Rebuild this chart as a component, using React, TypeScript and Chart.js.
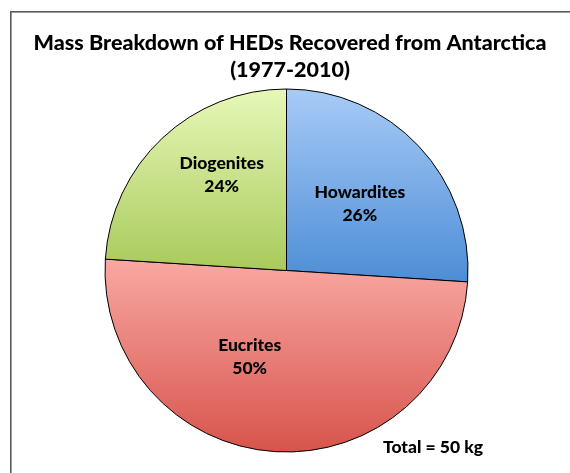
import React, { useEffect, useRef } from "react";
import { Chart, registerables } from "chart.js";

Chart.register(...registerables);

const categories = ["Howardites", "Eucrites", "Diogenites"];
const percentages = [26, 50, 24];
const titleLines = ["Mass Breakdown of HEDs Recovered from Antarctica", "(1977-2010)"];
const totalLabel = "Total = 50 kg";

// gradient colours per slice: [top, bottom]
const sliceGradients: [string, string][] = [
  ["#a8cbf7", "#4d8dd6"],
  ["#f9a8a3", "#d7544c"],
  ["#e7f8b8", "#a9ca5b"],
];

// label placement in units of pie radius: [dx, first-line baseline dy]
const labelOffsets: [number, number][] = [
  [0.404, -0.398],
  [-0.203, 0.442],
  [-0.357, -0.558],
];

const FONT = "Lato, 'Open Sans', sans-serif";

function sliceYRange(a0: number, a1: number, cy: number, r: number): [number, number] {
  const ys = [cy, cy + r * Math.sin(a0), cy + r * Math.sin(a1)];
  for (const k of [-Math.PI / 2, Math.PI / 2, (3 * Math.PI) / 2]) {
    if (k >= a0 && k <= a1) ys.push(cy + r * Math.sin(k));
  }
  return [Math.min(...ys), Math.max(...ys)];
}

const framePlugin = {
  id: "frame",
  beforeDraw(chart: any) {
    const ctx = chart.ctx;
    ctx.save();
    ctx.fillStyle = "#ffffff";
    ctx.fillRect(0, 0, chart.width, chart.height);
    ctx.strokeStyle = "#5a5a5a";
    ctx.lineWidth = 1.6;
    ctx.strokeRect(10.8, 11.8, chart.width + 20, chart.height + 20);
    ctx.restore();
  },
};

const textPlugin = {
  id: "texts",
  afterDraw(chart: any) {
    const ctx = chart.ctx;
    const meta = chart.getDatasetMeta(0);
    ctx.save();
    ctx.fillStyle = "#000000";
    ctx.textAlign = "center";
    ctx.textBaseline = "alphabetic";
    ctx.font = `900 21.5px ${FONT}`;
    ctx.fillText(titleLines[0], 290, 50);
    ctx.fillText(titleLines[1], 290, 77);

    const arc0 = meta.data[0];
    const cx = arc0.x;
    const cy = arc0.y;
    const r = arc0.outerRadius;
    ctx.font = `900 17.5px ${FONT}`;
    categories.forEach((name, i) => {
      const [dx, dy] = labelOffsets[i];
      const x = cx + dx * r;
      const y = cy + dy * r;
      ctx.fillText(name, x, y);
      ctx.fillText(`${percentages[i]}%`, x, y + 23);
    });
    ctx.fillText(totalLabel, cx + 146.5, cy + 182.5);
    ctx.restore();
  },
};

export default function App() {
  const ref = useRef<HTMLCanvasElement>(null);
  useEffect(() => {
    if (!ref.current) return;
    const total = percentages.reduce((a, b) => a + b, 0);
    const chart = new Chart(ref.current, {
      type: "pie",
      data: {
        labels: categories,
        datasets: [
          {
            data: percentages,
            borderColor: "#000000",
            borderWidth: 1,
            backgroundColor: (c: any) => {
              const ch = c.chart;
              const area = ch.chartArea;
              const i = c.dataIndex;
              if (!area || i === undefined) return sliceGradients[0][0];
              const cx = (area.left + area.right) / 2;
              const cy = (area.top + area.bottom) / 2;
              const r = Math.min(area.right - area.left, area.bottom - area.top) / 2;
              let cum = 0;
              for (let k = 0; k < i; k++) cum += percentages[k];
              const a0 = -Math.PI / 2 + (cum / total) * 2 * Math.PI;
              const a1 = -Math.PI / 2 + ((cum + percentages[i]) / total) * 2 * Math.PI;
              const [y0, y1] = sliceYRange(a0, a1, cy, r);
              const g = ch.ctx.createLinearGradient(0, y0, 0, y1);
              g.addColorStop(0, sliceGradients[i][0]);
              g.addColorStop(1, sliceGradients[i][1]);
              return g;
            },
          },
        ],
      },
      options: {
        responsive: false,
        devicePixelRatio: 1,
        animation: false,
        layout: { padding: { left: 104.5, right: 101.5, top: 88.5, bottom: 20.5 } },
        plugins: {
          legend: { display: false },
          tooltip: { enabled: false },
          title: { display: false },
        },
      },
      plugins: [framePlugin, textPlugin],
    });
    return () => chart.destroy();
  }, []);
  return (
    <div style={{ position: "absolute", left: 0, top: 0, width: 570, height: 473 }}>
      <canvas ref={ref} width={570} height={473} style={{ display: "block" }} />
    </div>
  );
}
